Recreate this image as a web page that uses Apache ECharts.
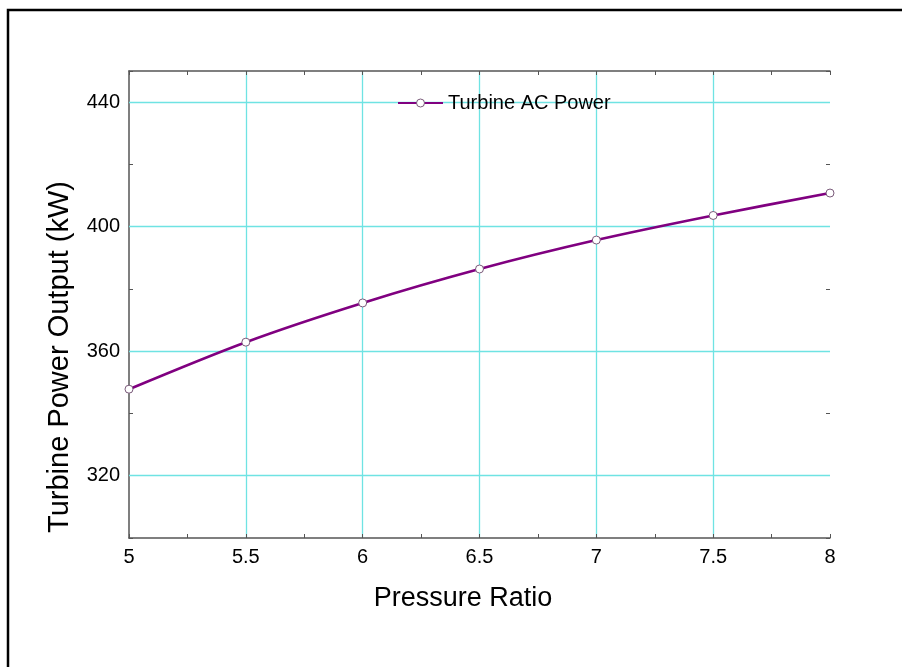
<!DOCTYPE html>
<html>
<head>
<meta charset="utf-8">
<script src="https://cdn.jsdelivr.net/npm/echarts@6/dist/echarts.min.js"></script>
<style>
html,body{margin:0;padding:0;background:#fff;}
#chart{width:902px;height:667px;}
</style>
</head>
<body>
<div id="chart"></div>
<script>
var pressureRatio = [5, 5.5, 6, 6.5, 7, 7.5, 8];
var turbinePower = [347.8, 362.9, 375.5, 386.4, 395.7, 403.6, 410.8];
var yGridValues = [320, 360, 400, 440];
var seriesName = 'Turbine AC Power';
var xTitle = 'Pressure Ratio';
var yTitle = 'Turbine Power Output (kW)';

var FONT = "'Liberation Sans', Arial, sans-serif";
var GRID = '#6FE3E3';
var AXIS = '#555555';
var PURPLE = '#800080';

var chart = echarts.init(document.getElementById('chart'));
var points = pressureRatio.map(function (x, i) { return [x, turbinePower[i]]; });

var tickAxisX = function (pos, showLine) {
  return {
    type: 'value', position: pos, min: 5, max: 8, interval: 0.25,
    axisLine: { show: showLine, onZero: false, lineStyle: { color: AXIS, width: 1.5 } },
    axisTick: { show: true, inside: true, length: 4, lineStyle: { color: AXIS } },
    axisLabel: { show: false }, splitLine: { show: false }
  };
};
var tickAxisY = function (pos) {
  return {
    type: 'value', position: pos, min: 300, max: 450, interval: 20,
    axisLine: { show: false, onZero: false },
    axisTick: { show: true, inside: true, length: 4, lineStyle: { color: AXIS } },
    axisLabel: { show: false }, splitLine: { show: false }
  };
};

chart.setOption({
  animation: false,
  backgroundColor: '#ffffff',
  textStyle: { fontFamily: FONT },
  grid: { left: 129, top: 71, right: 72, bottom: 129, containLabel: false },
  graphic: [
    { type: 'rect', shape: { x: 8, y: 10, width: 1000, height: 1000 },
      style: { fill: 'none', stroke: '#000', lineWidth: 2.5 }, z: 100 },
    { type: 'text', x: 60, y: 357, rotation: Math.PI / 2,
      style: { text: yTitle, font: '29px ' + FONT, fill: '#000', align: 'center', verticalAlign: 'middle' } },
    { type: 'text', x: 463, y: 599,
      style: { text: xTitle, font: '27px ' + FONT, fill: '#000', align: 'center', verticalAlign: 'middle' } }
  ],
  legend: {
    show: true, left: 392, top: 88, itemWidth: 45, itemHeight: 10, itemGap: 5,
    textStyle: { fontSize: 20, color: '#000', fontFamily: FONT },
    itemStyle: { color: '#ffffff', borderColor: '#7a5a7a', borderWidth: 1 },
    data: [seriesName]
  },
  xAxis: [
    {
      type: 'value', position: 'bottom', min: 5, max: 8, interval: 0.5,
      axisLine: { show: true, onZero: false, lineStyle: { color: AXIS, width: 1.5 } },
      axisTick: { show: false },
      axisLabel: { fontSize: 20, color: '#000', margin: 9, fontFamily: FONT },
      splitLine: { show: true, showMinLine: false, showMaxLine: false, lineStyle: { color: GRID, width: 1.3 } }
    },
    tickAxisX('bottom', false),
    tickAxisX('top', true)
  ],
  yAxis: [
    {
      type: 'value', position: 'left', min: 300, max: 450, interval: 20,
      axisLine: { show: true, onZero: false, lineStyle: { color: AXIS, width: 1.5 } },
      axisTick: { show: false },
      axisLabel: {
        fontSize: 20, color: '#000', margin: 9, fontFamily: FONT,
        formatter: function (v) { return (v % 40 === 0) ? String(v) : ''; }
      },
      splitLine: { show: false }
    },
    tickAxisY('left'),
    tickAxisY('right')
  ],
  series: [
    {
      name: 'grid', type: 'line', xAxisIndex: 0, yAxisIndex: 0, data: [],
      z: 1, silent: true,
      markLine: {
        silent: true, symbol: ['none', 'none'], z: 1, animation: false,
        label: { show: false },
        lineStyle: { color: GRID, width: 1.3, type: 'solid' },
        emphasis: { disabled: true },
        data: yGridValues.map(function (v) { return { yAxis: v }; })
      }
    },
    {
      name: seriesName, type: 'line', xAxisIndex: 0, yAxisIndex: 0,
      data: points, smooth: 0.3,
      symbol: 'circle', symbolSize: 8,
      lineStyle: { color: PURPLE, width: 2.6 },
      itemStyle: { color: '#ffffff', borderColor: '#7a5a7a', borderWidth: 1 },
      z: 5
    }
  ]
});
</script>
</body>
</html>
